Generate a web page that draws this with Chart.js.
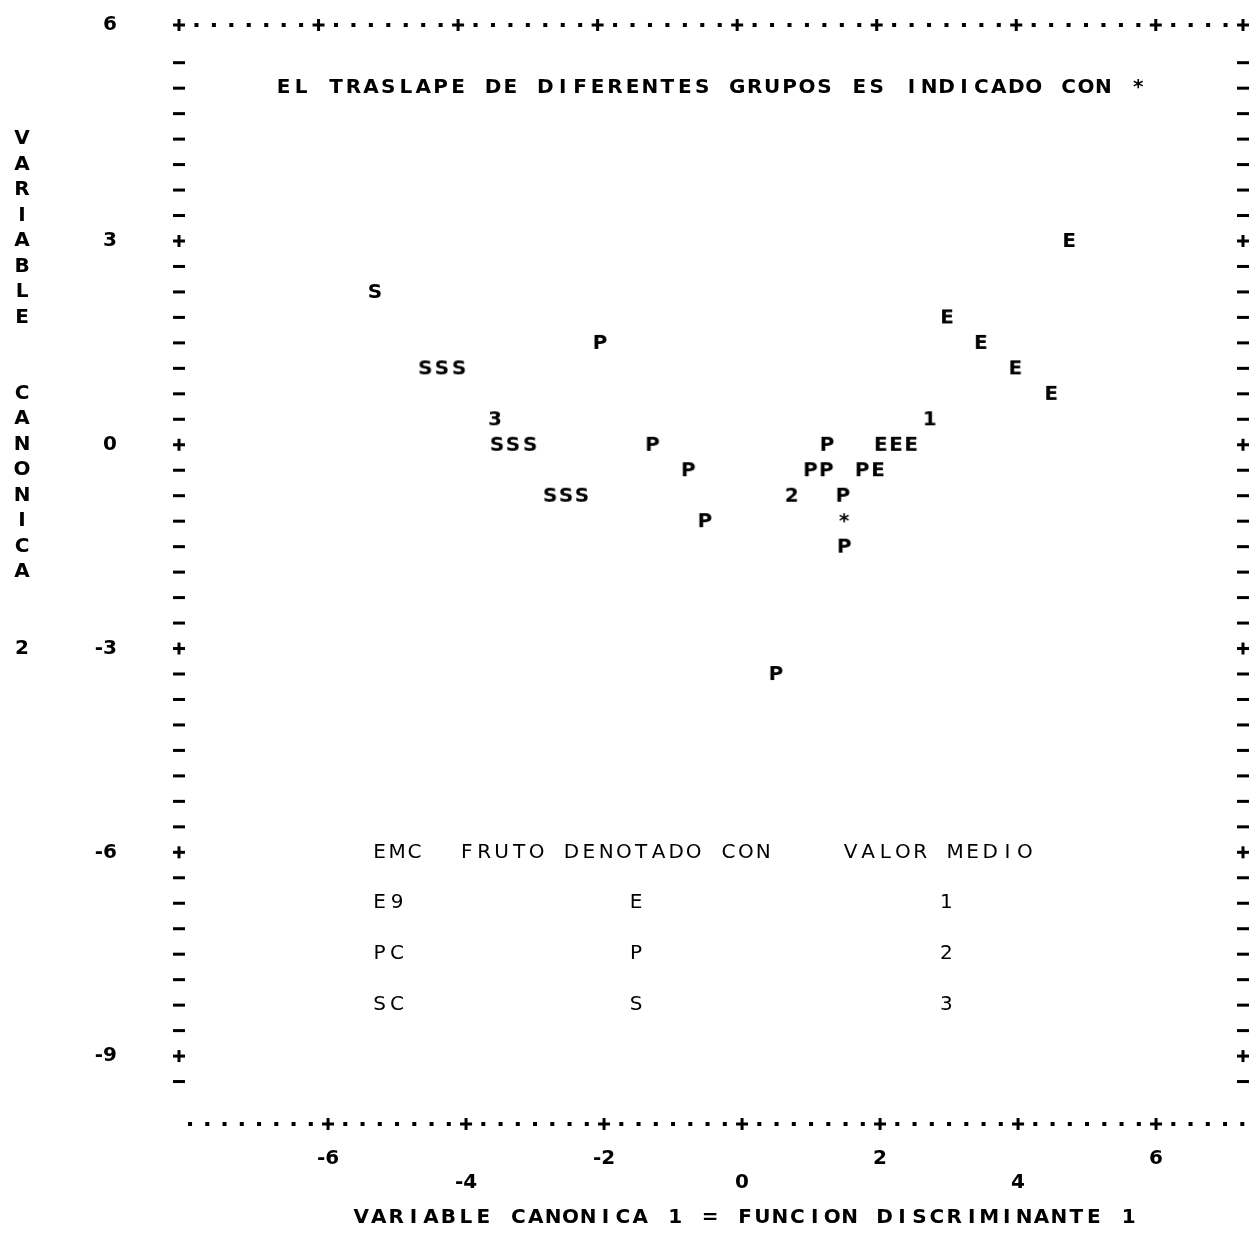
<!DOCTYPE html>
<html>
<head>
<meta charset="utf-8">
<script src="https://cdn.jsdelivr.net/npm/chart.js@4.4.1/dist/chart.umd.min.js"></script>
<style>
    html, body { margin: 0; padding: 0; background: #fff; }
</style>
</head>
<body>
<canvas id="Scatter__canvaas_1" width="1252" height="1236"></canvas>
<script>
// ejes
var xTicks = [-6, -4, -2, 0, 2, 4, 6];
var yTicks = [-9, -6, -3, 0, 3, 6];
var yTickLabels = ['-9', '-6', '-3', '0', '3', '6'];
var xRange = [-8.16, 7.26];
var yRange = [-10.0, 6.18];

// grupo E9 -> E
var grupoE_x = [2.01, 2.23, 2.45, 1.97, 2.97, 3.46, 3.96, 4.48, 4.74];
var grupoE_y = [0, 0, 0, -0.375, 1.875, 1.5, 1.125, 0.75, 3.0];
// grupo PC -> P
var grupoP_x = [-2.06, -1.30, -0.78, -0.54, 0.49, 0.99, 1.22, 1.23, 1.74, 1.46, 1.48];
var grupoP_y = [1.5, 0, -0.375, -1.125, -3.375, -0.375, -0.375, 0, -0.375, -0.75, -1.5];
// grupo SC -> S
var grupoS_x = [-5.32, -4.59, -4.35, -4.10, -3.55, -3.32, -3.07, -2.78, -2.55, -2.32];
var grupoS_y = [2.25, 1.125, 1.125, 1.125, 0, 0, 0, -0.75, -0.75, -0.75];
// valores medios 1, 2, 3
var medias_x = [2.72, 0.72, -3.58];
var medias_y = [0.375, -0.75, 0.375];
var mediasLabel = ['1', '2', '3'];
// traslape *
var traslape_x = [1.48];
var traslape_y = [-1.125];

// textos
var tituloArriba = 'EL TRASLAPE DE DIFERENTES GRUPOS ES INDICADO CON *';
var tituloY = 'VARIABLE  CANONICA  2';
var tituloX = 'VARIABLE CANONICA 1 = FUNCION DISCRIMINANTE 1';
var tablaHeader = ['EMC', 'FRUTO DENOTADO CON', 'VALOR MEDIO'];
var tablaEMC = ['E9', 'PC', 'SC'];
var tablaLetra = ['E', 'P', 'S'];
var tablaMedia = ['1', '2', '3'];

var FONT_B = 'bold 20px "DejaVu Sans"';
var FONT_N = '20px "DejaVu Sans"';

function letterIcon(ch) {
    var c = document.createElement('canvas');
    c.width = 20;
    c.height = 26;
    var g = c.getContext('2d');
    g.font = FONT_B;
    g.fillStyle = '#000';
    g.textAlign = 'center';
    g.textBaseline = 'middle';
    g.fillText(ch, 10, 14);
    return c;
}

function toPoints(xs, ys) {
    return xs.map(function (x, i) { return { x: x, y: ys[i] }; });
}

function plus(ctx, x, y) {
    ctx.fillRect(x - 6, y - 1.5, 12, 3);
    ctx.fillRect(x - 1.5, y - 6, 3, 12);
}
function dash(ctx, x, y) {
    ctx.fillRect(x - 6, y - 1.5, 12, 3);
}
function dot(ctx, x, y) {
    ctx.fillRect(x - 2, y - 2, 4, 4);
}
function pitched(ctx, text, x0, y, pitch) {
    for (var i = 0; i < text.length; i++) {
        ctx.fillText(text[i], x0 + i * pitch, y);
    }
}

// marco estilo impresora + textos
var printerFrame = {
    id: 'printerFrame',
    afterDraw: function (chart) {
        var ctx = chart.ctx, a = chart.chartArea;
        var xs = chart.scales.x, ys = chart.scales.y;
        var pitch = (a.right - a.left) / 61;
        var row = function (k) { return ys.getPixelForValue(k * 0.375); };
        var col = function (c) { return a.left + c * pitch; };
        ctx.save();
        ctx.fillStyle = '#000';

        // borde superior
        for (var c = 0; c <= 61; c++) {
            if (c % 8 === 0 || c === 61) plus(ctx, col(c), a.top);
            else dot(ctx, col(c), a.top);
        }
        // borde inferior, + en los ticks
        var step = (xs.getPixelForValue(2) - xs.getPixelForValue(0)) / 8;
        var p0 = xs.getPixelForValue(xTicks[0]);
        for (var k = -20; k < 80; k++) {
            var px = p0 + k * step;
            if (px < a.left + 4 || px > chart.width - 4) continue;
            if (k >= 0 && k % 8 === 0 && k / 8 < xTicks.length) plus(ctx, px, a.bottom);
            else dot(ctx, px, a.bottom);
        }
        // bordes laterales
        for (var v = -9.375; v <= 5.7; v += 0.375) {
            var py = ys.getPixelForValue(v);
            var major = Math.abs(v % 3) < 1e-6;
            if (major) { plus(ctx, a.left, py); plus(ctx, a.right, py); }
            else { dash(ctx, a.left, py); dash(ctx, a.right, py); }
        }

        ctx.textAlign = 'center';
        ctx.textBaseline = 'middle';
        ctx.font = FONT_B;
        pitched(ctx, tituloArriba, col(6), row(14), pitch);

        // titulo eje y, vertical
        for (var i = 0; i < tituloY.length; i++) {
            ctx.fillText(tituloY[i], 22, row(12 - i));
        }

        // titulo eje x
        var xw = (tituloX.length - 1) * pitch;
        pitched(ctx, tituloX, 745 - xw / 2, chart.height - 18, pitch);

        // tabla
        ctx.font = FONT_N;
        pitched(ctx, tablaHeader[0], col(11.5), row(-16), pitch);
        pitched(ctx, tablaHeader[1], col(16.5), row(-16), pitch);
        pitched(ctx, tablaHeader[2], col(38.5), row(-16), pitch);
        for (var r = 0; r < tablaEMC.length; r++) {
            var ry = row(-18 - 2 * r);
            pitched(ctx, tablaEMC[r], col(11.5), ry, pitch);
            ctx.fillText(tablaLetra[r], col(26.2), ry);
            ctx.fillText(tablaMedia[r], col(44), ry);
        }
        ctx.restore();
    }
};

function Scatter_status_1() {
    var ctr = document.getElementById('Scatter__canvaas_1');
    Chart.defaults.font.family = '"DejaVu Sans"';
    Chart.defaults.font.size = 20;
    Chart.defaults.font.weight = 'bold';
    Chart.defaults.color = '#000';

    var chart = new Chart(ctr, {
        type: 'scatter',
        data: {
            datasets: [{
                label: 'E9',
                data: toPoints(grupoE_x, grupoE_y),
                pointStyle: letterIcon('E'),
                pointRadius: 3
            }, {
                label: 'PC',
                data: toPoints(grupoP_x, grupoP_y),
                pointStyle: letterIcon('P'),
                pointRadius: 3
            }, {
                label: 'SC',
                data: toPoints(grupoS_x, grupoS_y),
                pointStyle: letterIcon('S'),
                pointRadius: 3
            }, {
                label: 'Medias',
                data: toPoints(medias_x, medias_y),
                pointStyle: mediasLabel.map(letterIcon),
                pointRadius: 3
            }, {
                label: 'Traslape',
                data: toPoints(traslape_x, traslape_y),
                pointStyle: letterIcon('*'),
                pointRadius: 3
            }]
        },
        options: {
            responsive: false,
            animation: false,
            layout: { padding: { top: 25, right: 9, left: 0, bottom: 0 } },
            plugins: {
                legend: { display: false },
                tooltip: { enabled: false }
            },
            scales: {
                x: {
                    type: 'linear',
                    min: xRange[0],
                    max: xRange[1],
                    grid: { display: false, drawTicks: false },
                    border: { display: false },
                    afterBuildTicks: function (scale) {
                        scale.ticks = xTicks.map(function (v) { return { value: v }; });
                    },
                    afterFit: function (scale) {
                        scale.height = 112;
                        scale.paddingLeft = 0;
                        scale.paddingRight = 0;
                    },
                    ticks: {
                        padding: 23,
                        maxRotation: 0,
                        autoSkip: false,
                        font: { size: 20, lineHeight: 1.2 },
                        callback: function (value) {
                            return (value % 4 === 0) ? ['', String(value)] : String(value);
                        }
                    }
                },
                y: {
                    type: 'linear',
                    min: yRange[0],
                    max: yRange[1],
                    grid: { display: false, drawTicks: false },
                    border: { display: false },
                    afterBuildTicks: function (scale) {
                        // la fila superior del marco lleva la etiqueta 6
                        scale.ticks = yTicks.map(function (v, i) {
                            return { value: i === yTicks.length - 1 ? scale.max : v };
                        });
                    },
                    afterFit: function (scale) {
                        scale.width = 179;
                        scale.paddingTop = 0;
                        scale.paddingBottom = 0;
                    },
                    ticks: {
                        padding: 62,
                        autoSkip: false,
                        callback: function (value, index) { return yTickLabels[index]; }
                    }
                }
            }
        },
        plugins: [printerFrame]
    });
}

Scatter_status_1();
</script>
</body>
</html>
